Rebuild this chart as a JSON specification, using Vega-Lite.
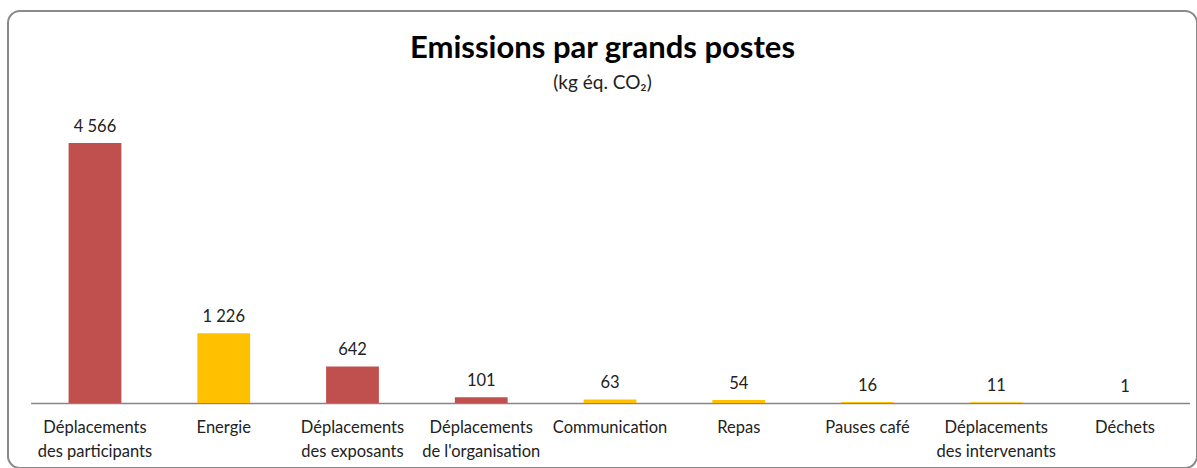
{
  "$schema": "https://vega.github.io/schema/vega-lite/v6.json",
  "autosize": "none",
  "width": 1189,
  "height": 457,
  "padding": {"left": 8, "top": 11, "right": 0, "bottom": 0},
  "background": "white",
  "title": {
    "text": "Emissions par grands postes",
    "subtitle": "(kg éq. CO₂)",
    "anchor": "middle",
    "offset": -83,
    "font": "Lato",
    "fontSize": 31,
    "fontWeight": "bold",
    "color": "#000000",
    "subtitleFont": "Lato",
    "subtitleFontSize": 19,
    "subtitleColor": "#222222",
    "subtitlePadding": 9
  },
  "data": {
    "values": [
      {"poste": "Déplacements des participants", "valeur": 4566, "serie": "A"},
      {"poste": "Energie", "valeur": 1226, "serie": "B"},
      {"poste": "Déplacements des exposants", "valeur": 642, "serie": "A"},
      {"poste": "Déplacements de l'organisation", "valeur": 101, "serie": "A"},
      {"poste": "Communication", "valeur": 63, "serie": "B"},
      {"poste": "Repas", "valeur": 54, "serie": "B"},
      {"poste": "Pauses café", "valeur": 16, "serie": "B"},
      {"poste": "Déplacements des intervenants", "valeur": 11, "serie": "B"},
      {"poste": "Déchets", "valeur": 1, "serie": "B"}
    ]
  },
  "encoding": {
    "x": {
      "field": "poste",
      "type": "nominal",
      "sort": null,
      "scale": {"range": [22.6, 1181.4], "paddingInner": 0.59, "paddingOuter": 0.295},
      "axis": {
        "title": null,
        "orient": "bottom",
        "offset": -65,
        "domainColor": "#868686",
        "domainWidth": 1.5,
        "ticks": false,
        "labelAngle": 0,
        "labelFont": "Lato",
        "labelFontSize": 16.5,
        "labelColor": "#222222",
        "labelPadding": 16,
        "labelLineHeight": 24,
        "labelBaseline": "top",
        "labelExpr": "indexof(datum.label, 'Déplacements ') == 0 ? ['Déplacements', substring(datum.label, 13)] : datum.label"
      }
    },
    "y": {
      "field": "valeur",
      "type": "quantitative",
      "scale": {"domain": [-1141.6, 6884], "nice": false, "zero": false},
      "axis": null
    }
  },
  "layer": [
    {
      "mark": {"type": "bar"},
      "encoding": {
        "color": {
          "field": "serie",
          "type": "nominal",
          "scale": {"domain": ["A", "B"], "range": ["#C0504D", "#FFC000"]},
          "legend": null
        }
      }
    },
    {
      "mark": {"type": "text", "baseline": "bottom", "dy": -8, "font": "Lato", "fontSize": 16.5, "color": "#222222"},
      "encoding": {
        "text": {"field": "valeur", "type": "quantitative", "format": ",d"}
      }
    }
  ],
  "config": {
    "locale": {"number": {"decimal": ",", "thousands": " ", "grouping": [3], "currency": ["", " €"]}},
    "view": {"stroke": "#8a8a8a", "strokeWidth": 2, "cornerRadius": 12},
    "axis": {"grid": false}
  }
}
